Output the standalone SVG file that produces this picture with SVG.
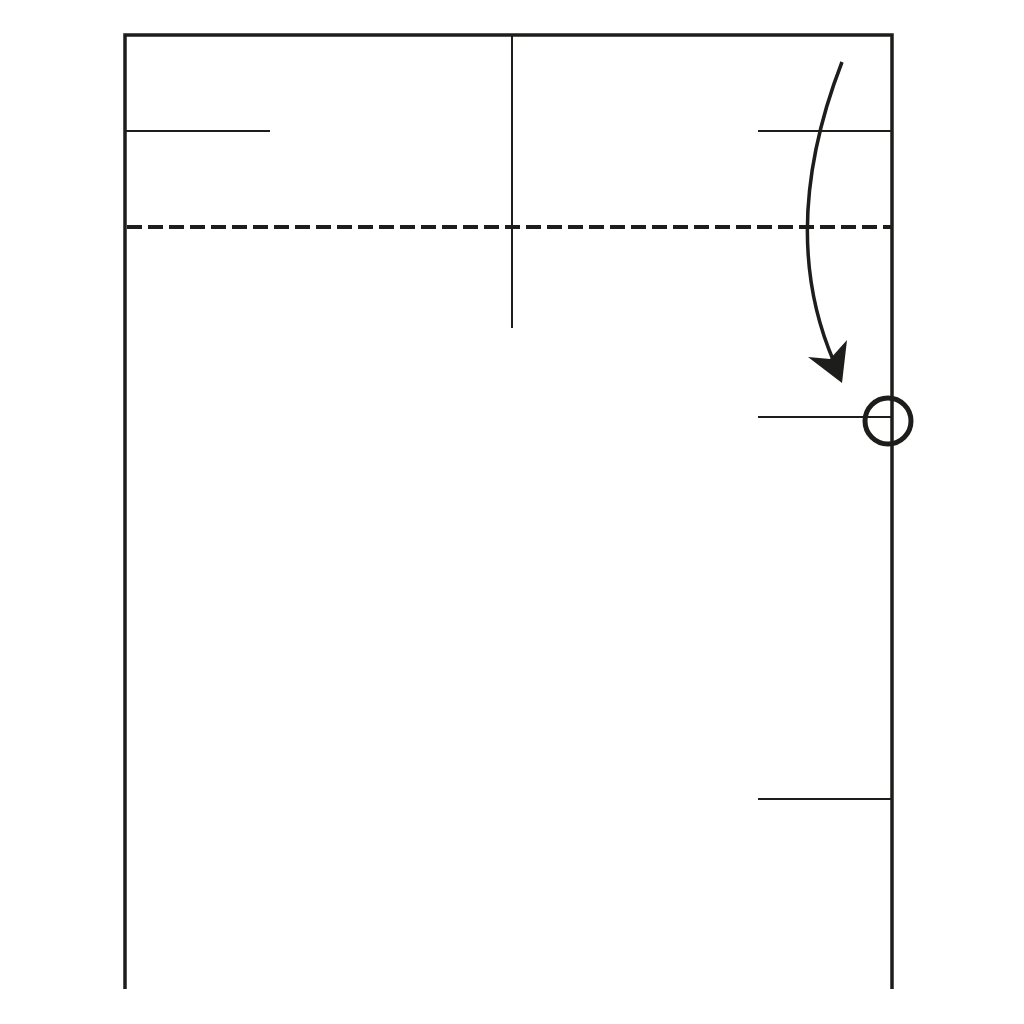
<svg xmlns="http://www.w3.org/2000/svg" width="1024" height="1024" viewBox="0 0 1024 1024">
<style>
.thick{stroke:#1d1d1b;stroke-width:3.5;fill:none}
.thin{stroke:#1d1d1b;stroke-width:2;fill:none}
.dash{stroke:#1d1d1b;stroke-width:4;fill:none;stroke-dasharray:15 6}
.ring{stroke:#1d1d1b;stroke-width:5;fill:none}
</style>
<rect width="1024" height="1024" fill="#fff"/>
<g id="paper">
<path class="thick" d="M125,989 V35 H892 V989"/>
</g>
<g id="creases">
<line class="thin" x1="125" y1="131" x2="270" y2="131"/>
<line class="thin" x1="758" y1="131" x2="892" y2="131"/>
<line class="thin" x1="758" y1="417" x2="892" y2="417"/>
<line class="thin" x1="758" y1="799" x2="892" y2="799"/>
<line class="thin" x1="512" y1="35" x2="512" y2="328"/>
</g>
<g id="fold-line">
<line class="dash" x1="127" y1="227" x2="892" y2="227"/>
</g>
<g id="connectors">
<path class="thick" d="M842,62 Q777,230 834,362"/>
<polygon points="842,383 808,357 830,359 847,340" fill="#1d1d1b"/>
</g>
<g id="target">
<circle cx="888" cy="421" r="23" class="ring"/>
</g>
</svg>
